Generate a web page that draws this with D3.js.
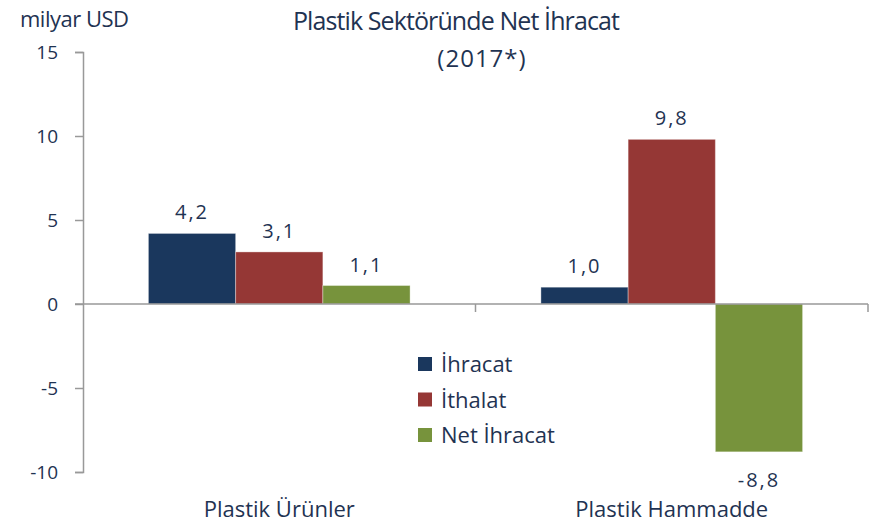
<!DOCTYPE html>
<html>
<head>
<meta charset="utf-8">
<script src="https://cdn.jsdelivr.net/npm/d3@7"></script>
<style>
  body { margin: 0; background: #fff; }
  text { font-family: "Open Sans", Lato, sans-serif; fill: #1f3352; }
</style>
</head>
<body>
<svg id="chart" width="874" height="525"></svg>
<script>
// data
const categories = ["Plastik Ürünler", "Plastik Hammadde"];
const seriesNames = ["İhracat", "İthalat", "Net İhracat"];
const ihracat = [4.2, 1.0];
const ithalat = [3.1, 9.8];
const netIhracat = [1.1, -8.8];
const yTicks = [15, 10, 5, 0, -5, -10];

const values = [ihracat, ithalat, netIhracat];
const data = [];
categories.forEach((c, i) => {
  seriesNames.forEach((s, j) => {
    data.push({cat: c, series: s, value: values[j][i]});
  });
});

const width = 874, height = 525;
const margin = {top: 52, bottom: 53, left: 83, right: 6};

const svg = d3.select("#chart");

const x0 = d3.scaleBand()
  .domain(categories)
  .range([margin.left, width - margin.right]);

const x1 = d3.scaleBand()
  .domain(seriesNames)
  .range([0, x0.bandwidth()])
  .paddingOuter(0.75);

const y = d3.scaleLinear()
  .domain([-10, 15])
  .range([height - margin.bottom, margin.top]);

const color = d3.scaleOrdinal()
  .domain(seriesNames)
  .range(["#1a375d", "#953735", "#77933c"]);

// comma decimal, plain hyphen for negatives
const fmt = v => v.toFixed(1).replace(".", ",");

// y axis
const yAxis = svg.append("g")
  .attr("transform", `translate(${margin.left},0)`)
  .call(d3.axisLeft(y).tickValues(yTicks).tickSize(8).tickPadding(17).tickFormat(d => String(d)));
yAxis.select(".domain").attr("stroke", "#999").attr("stroke-width", 1.5);
yAxis.selectAll(".tick line").attr("stroke", "#999").attr("stroke-width", 1.5);
yAxis.selectAll(".tick text").style("font-size", "19px").attr("fill", "#1f3352");

// bars
svg.append("g").selectAll("rect")
  .data(data)
  .enter()
  .append("rect")
  .attr("x", d => x0(d.cat) + x1(d.series))
  .attr("y", d => y(Math.max(0, d.value)))
  .attr("width", x1.bandwidth())
  .attr("height", d => Math.abs(y(d.value) - y(0)))
  .attr("fill", d => color(d.series))
  .attr("stroke", "rgba(255,255,255,0.35)")
  .attr("stroke-width", 1);

// zero line with category ticks
svg.append("line")
  .attr("x1", margin.left - 8).attr("x2", width - margin.right)
  .attr("y1", y(0)).attr("y2", y(0))
  .attr("stroke", "#999").attr("stroke-width", 1.5);

categories.forEach(c => {
  const xe = x0(c) + x0.bandwidth();
  svg.append("line")
    .attr("x1", xe).attr("x2", xe)
    .attr("y1", y(0)).attr("y2", y(0) + 8)
    .attr("stroke", "#999").attr("stroke-width", 1.5);
});

// value labels
svg.append("g").selectAll("text")
  .data(data)
  .enter()
  .append("text")
  .attr("x", d => x0(d.cat) + x1(d.series) + x1.bandwidth() / 2)
  .attr("y", d => d.value >= 0 ? y(d.value) - 14 : y(d.value) + 35)
  .attr("text-anchor", "middle")
  .style("font-size", "20px")
  .style("letter-spacing", "2px")
  .text(d => fmt(d.value));

// category labels
svg.append("g").selectAll("text")
  .data(categories)
  .enter()
  .append("text")
  .attr("x", d => x0(d) + x0.bandwidth() / 2)
  .attr("y", 517)
  .attr("text-anchor", "middle")
  .style("font-size", "22px")
  .text(d => d);

// titles
svg.append("text")
  .attr("x", 456).attr("y", 30)
  .attr("text-anchor", "middle")
  .style("font-size", "25px")
  .style("letter-spacing", "-0.9px")
  .attr("fill", "#1a2b47")
  .text("Plastik Sektöründe Net İhracat");

svg.append("text")
  .attr("x", 482).attr("y", 67)
  .attr("text-anchor", "middle")
  .style("font-size", "24px")
  .style("letter-spacing", "1px")
  .text("(2017*)");

svg.append("text")
  .attr("x", 20).attr("y", 27)
  .style("font-size", "22px")
  .style("letter-spacing", "-0.5px")
  .attr("fill", "#1a2b47")
  .text("milyar USD");

// legend
const legend = svg.append("g")
  .attr("transform", "translate(418,357)");

seriesNames.forEach((s, i) => {
  legend.append("rect")
    .attr("x", 0).attr("y", i * 35.5)
    .attr("width", 14).attr("height", 14)
    .attr("fill", color(s));
  legend.append("text")
    .attr("x", 23).attr("y", i * 35.5 + 15)
    .style("font-size", "22px")
    .text(s);
});
</script>
</body>
</html>
